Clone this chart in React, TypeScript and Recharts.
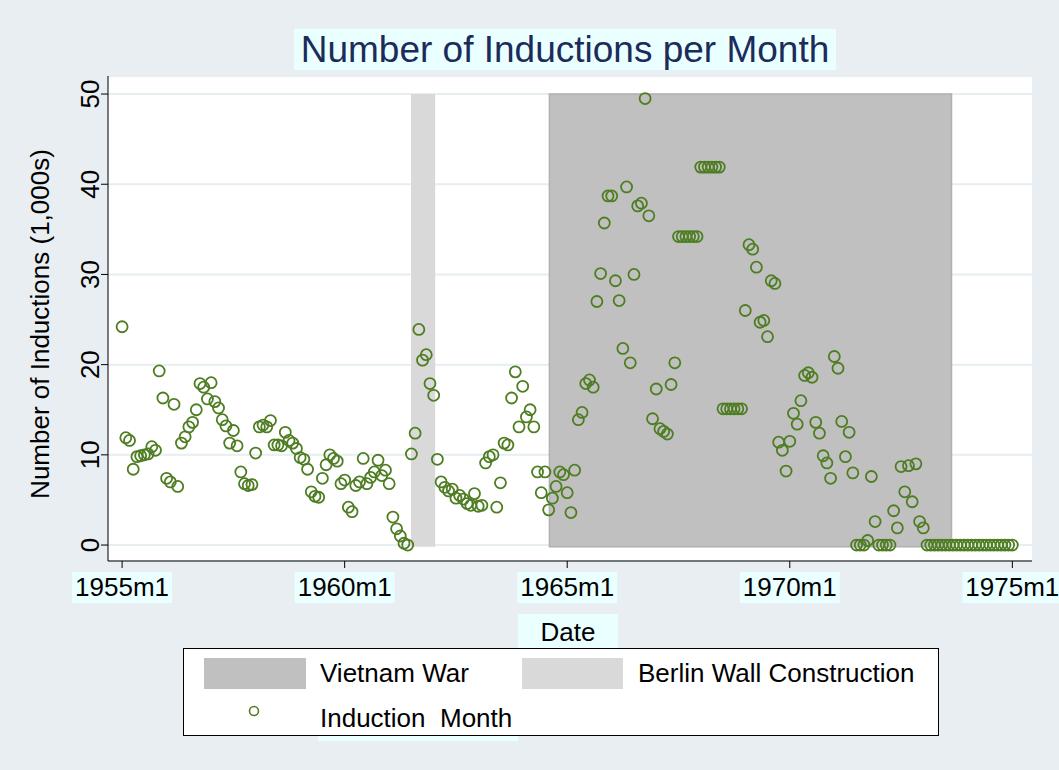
import React from 'react';
import { ScatterChart, Scatter, XAxis, YAxis, CartesianGrid, ReferenceArea } from 'recharts';

// monthly inductions (1,000s), 1955m1 .. 1975m1
const inductions: number[] = [
  // 1955
  24.2, 11.9, 11.6, 8.4, 9.8, 9.9, 10.0, 10.1, 10.9, 10.5, 19.3, 16.3,
  // 1956
  7.4, 7.0, 15.6, 6.5, 11.3, 12.0, 13.1, 13.6, 15.0, 17.9, 17.5, 16.2,
  // 1957
  18.0, 15.9, 15.2, 13.9, 13.2, 11.3, 12.7, 11.0, 8.1, 6.8, 6.6, 6.7,
  // 1958
  10.2, 13.1, 13.3, 13.1, 13.8, 11.1, 11.1, 11.0, 12.5, 11.6, 11.3, 10.7,
  // 1959
  9.7, 9.5, 8.4, 5.9, 5.4, 5.3, 7.4, 8.9, 10.0, 9.6, 9.3, 6.8,
  // 1960
  7.2, 4.2, 3.7, 6.6, 7.0, 9.6, 6.8, 7.5, 8.1, 9.4, 7.7, 8.3,
  // 1961
  6.8, 3.1, 1.8, 1.0, 0.2, 0.0, 10.1, 12.4, 23.9, 20.5, 21.1, 17.9,
  // 1962
  16.6, 9.5, 7.0, 6.4, 6.0, 6.2, 5.2, 5.5, 5.1, 4.6, 4.4, 5.7,
  // 1963
  4.3, 4.4, 9.1, 9.8, 10.0, 4.2, 6.9, 11.3, 11.1, 16.3, 19.2, 13.1,
  // 1964
  17.6, 14.2, 15.0, 13.1, 8.1, 5.8, 8.1, 3.9, 5.2, 6.5, 8.1, 7.8,
  // 1965
  5.8, 3.6, 8.3, 13.9, 14.7, 17.9, 18.3, 17.5, 27.0, 30.1, 35.7, 38.7,
  // 1966
  38.7, 29.3, 27.1, 21.8, 39.7, 20.2, 30.0, 37.6, 37.9, 49.5, 36.5, 14.0,
  // 1967
  17.3, 12.9, 12.6, 12.3, 17.8, 20.2, 34.2, 34.2, 34.2, 34.2, 34.2, 34.2,
  // 1968
  41.9, 41.9, 41.9, 41.9, 41.9, 41.9, 15.1, 15.1, 15.1, 15.1, 15.1, 15.1,
  // 1969
  26.0, 33.3, 32.8, 30.8, 24.7, 24.9, 23.1, 29.3, 29.0, 11.4, 10.5, 8.2,
  // 1970
  11.5, 14.6, 13.4, 16.0, 18.8, 19.1, 18.6, 13.6, 12.4, 9.9, 9.1, 7.4,
  // 1971
  20.9, 19.6, 13.7, 9.8, 12.5, 8.0, 0, 0, 0, 0.5, 7.6, 2.6,
  // 1972
  0, 0, 0, 0, 3.8, 1.9, 8.7, 5.9, 8.8, 4.8, 9.0, 2.6,
  // 1973
  1.9, 0, 0, 0, 0, 0, 0, 0, 0, 0, 0, 0,
  // 1974
  0, 0, 0, 0, 0, 0, 0, 0, 0, 0, 0, 0,
  // 1975
  0,
];

const xTicks = [0, 60, 120, 180, 240];
const xTickLabels = ['1955m1', '1960m1', '1965m1', '1970m1', '1975m1'];
const yTicks = [0, 10, 20, 30, 40, 50];

// month index (0 = 1955m1)
const berlinWall = [77.9, 84.4];
const vietnamWar = [115.2, 223.6];

const data = inductions.map((v, i) => ({ m: i, v }));

const FONT = '"Liberation Sans", Arial, sans-serif';
const GREEN = '#4e7d22';
const BG = '#e8eef1';
const LABEL_BG = '#eaffff';

const XTick = (props: any) => {
  const { x, y, payload } = props;
  const idx = xTicks.indexOf(payload.value);
  return (
    <g>
      <rect x={x - 50} y={y + 4} width={100} height={31} fill={LABEL_BG} />
      <text x={x} y={y + 28} textAnchor="middle" fontSize={26} fontFamily={FONT} fill="#000">
        {xTickLabels[idx]}
      </text>
    </g>
  );
};

const YTick = (props: any) => {
  const { x, y, payload } = props;
  return (
    <text
      x={x}
      y={y}
      transform={`rotate(-90, ${x}, ${y})`}
      textAnchor="middle"
      fontSize={26}
      fontFamily={FONT}
      fill="#000"
    >
      {payload.value}
    </text>
  );
};

const Ring = (props: any) => (
  <circle cx={props.cx} cy={props.cy} r={5.5} fill="none" stroke={GREEN} strokeWidth={1.8} />
);

export default function App() {
  return (
    <div style={{ position: 'absolute', left: 0, top: 0, width: 1059, height: 770, background: BG, fontFamily: FONT }}>
      <ScatterChart width={1059} height={770} margin={{ top: 76, right: 27, bottom: 159, left: 48 }}>
        <CartesianGrid
          horizontal
          vertical={false}
          fill="#ffffff"
          stroke="#e6eef1"
          strokeWidth={2}
        />
        <ReferenceArea
          x1={vietnamWar[0]}
          x2={vietnamWar[1]}
          y1={-0.2}
          y2={50}
          fill="#c0c0c0"
          fillOpacity={1}
          stroke="#b0b0b0"
          strokeWidth={1.5}
          ifOverflow="visible"
        />
        <ReferenceArea
          x1={berlinWall[0]}
          x2={berlinWall[1]}
          y1={-0.2}
          y2={50}
          fill="#d9d9d9"
          fillOpacity={1}
          ifOverflow="visible"
        />
        <XAxis
          type="number"
          dataKey="m"
          domain={[-3.8, 245.3]}
          allowDataOverflow
          ticks={xTicks}
          height={50}
          tickSize={7}
          tickMargin={0}
          stroke="#000"
          tick={<XTick />}
        />
        <YAxis
          type="number"
          dataKey="v"
          domain={[-1.77, 52]}
          allowDataOverflow
          ticks={yTicks}
          width={60}
          tickSize={7}
          tickMargin={2}
          stroke="#000"
          tick={<YTick />}
        />
        <Scatter data={data} shape={<Ring />} isAnimationActive={false} />
      </ScatterChart>

      {/* title */}
      <div
        style={{
          position: 'absolute', left: 294, top: 29, width: 542, height: 41,
          background: LABEL_BG, color: '#1c2b5a', fontSize: 37, lineHeight: '41px', textAlign: 'center',
        }}
      >
        Number of Inductions per Month
      </div>

      {/* y axis title */}
      <div
        style={{
          position: 'absolute', left: 40 - 200, top: 324 - 16, width: 400, height: 32,
          transform: 'rotate(-90deg)', fontSize: 26, lineHeight: '32px', textAlign: 'center', color: '#000',
        }}
      >
        Number of Inductions (1,000s)
      </div>

      {/* x axis title */}
      <div
        style={{
          position: 'absolute', left: 518, top: 614, width: 100, height: 36,
          background: LABEL_BG, fontSize: 26, lineHeight: '36px', textAlign: 'center', color: '#000',
        }}
      >
        Date
      </div>

      {/* legend */}
      <div style={{ position: 'absolute', left: 318, top: 736, width: 200, height: 5, background: LABEL_BG }} />
      <div
        style={{
          position: 'absolute', left: 183, top: 648, width: 756, height: 88,
          background: '#fff', border: '1px solid #000', boxSizing: 'border-box', fontSize: 26, color: '#000',
        }}
      >
        <div style={{ position: 'absolute', left: 20, top: 9, width: 102, height: 31, background: '#c0c0c0' }} />
        <div style={{ position: 'absolute', left: 136, top: 8, lineHeight: '32px' }}>Vietnam War</div>
        <div style={{ position: 'absolute', left: 338, top: 9, width: 101, height: 31, background: '#d9d9d9' }} />
        <div style={{ position: 'absolute', left: 454, top: 8, lineHeight: '32px', whiteSpace: 'nowrap' }}>
          Berlin Wall Construction
        </div>
        <svg style={{ position: 'absolute', left: 60, top: 52 }} width={20} height={20}>
          <circle cx={10} cy={10} r={4.5} fill="none" stroke={GREEN} strokeWidth={1.6} />
        </svg>
        <div style={{ position: 'absolute', left: 136, top: 53, lineHeight: '32px', whiteSpace: 'pre' }}>
          Induction  Month
        </div>
      </div>
    </div>
  );
}
